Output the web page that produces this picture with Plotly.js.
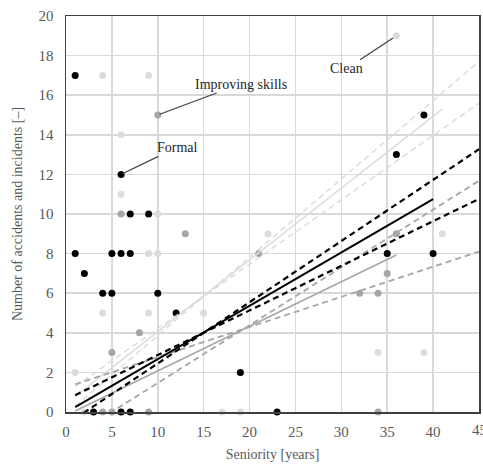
<!DOCTYPE html>
<html>
<head>
<meta charset="utf-8">
<script src="https://cdn.plot.ly/plotly-3.0.1.min.js"></script>
<style>html,body{margin:0;padding:0;background:#fff;}#chart{width:483px;height:465px;}</style>
</head>
<body>
<div id="chart"></div>
<script>
// Data points (seniority [years], number of accidents and incidents)
const formalX = [1, 6, 7, 9, 1, 5, 6, 7, 2, 4, 5, 10, 12, 3, 6, 7, 19, 23, 36, 39, 35, 40];
const formalY = [17, 12, 10, 10, 8, 8, 8, 8, 7, 6, 6, 6, 5, 0, 0, 0, 2, 0, 13, 15, 8, 8];

const improvingX = [10, 6, 13, 8, 5, 4, 5, 9, 21, 35, 32, 34, 34, 36];
const improvingY = [15, 10, 9, 4, 3, 0, 0, 0, 8, 7, 6, 6, 0, 9];

const cleanX = [4, 9, 6, 6, 10, 9, 10, 4, 9, 15, 1, 2, 17, 19, 22, 36, 41, 34, 39];
const cleanY = [17, 17, 14, 11, 10, 8, 8, 5, 5, 5, 2, 0, 0, 0, 9, 19, 9, 3, 3];

// Trend lines and their bounds (end points)
const formalFitX = [1, 40];       const formalFitY = [0.25, 10.75];
const formalLoX = [1, 45];        const formalLoY = [0.85, 10.76];
const formalHiX = [1, 45];        const formalHiY = [-0.33, 13.27];

const improvingFitX = [1, 36];    const improvingFitY = [0.05, 7.93];
const improvingLoX = [1, 45];     const improvingLoY = [1.4, 8.1];
const improvingHiX = [1, 45];     const improvingHiY = [-1.16, 11.68];

const cleanFitX = [1, 41];        const cleanFitY = [0.79, 15.3];
const cleanLoX = [1, 45];         const cleanLoY = [1.28, 15.6];
const cleanHiX = [1, 45];         const cleanHiY = [0.3, 17.7];

const xTicks = [0, 5, 10, 15, 20, 25, 30, 35, 40];
const xLastTick = 45;
const yTicks = [0, 2, 4, 6, 8, 10, 12, 14, 16, 18, 20];

const BLACK = '#000000', GRAY = '#a6a6a6', LIGHT = '#dcdcdc';

function pts(x, y, c) {
  return {x: x, y: y, type: 'scatter', mode: 'markers', cliponaxis: false,
    marker: {color: c, size: 7, line: {width: 0}}, hoverinfo: 'skip', showlegend: false};
}
function ln(x, y, c, w, dash) {
  return {x: x, y: y, type: 'scatter', mode: 'lines',
    line: {color: c, width: w, dash: dash}, hoverinfo: 'skip', showlegend: false};
}

const traces = [
  pts(cleanX, cleanY, LIGHT),
  pts(improvingX, improvingY, GRAY),
  pts(formalX, formalY, BLACK),
  ln(cleanFitX, cleanFitY, LIGHT, 1.5, 'solid'),
  ln(cleanLoX, cleanLoY, LIGHT, 1.5, '6px,4px'),
  ln(cleanHiX, cleanHiY, LIGHT, 1.5, '6px,4px'),
  ln(improvingFitX, improvingFitY, GRAY, 1.5, 'solid'),
  ln(improvingLoX, improvingLoY, GRAY, 1.8, '6px,4px'),
  ln(improvingHiX, improvingHiY, GRAY, 1.8, '6px,4px'),
  ln(formalFitX, formalFitY, BLACK, 2, 'solid'),
  ln(formalLoX, formalLoY, BLACK, 2.2, '6px,4px'),
  ln(formalHiX, formalHiY, BLACK, 2.2, '6px,4px')
];

const serif = "'Liberation Serif'";
const annFont = {family: serif, size: 14, color: '#262626'};
const tickFont = {family: serif, size: 15, color: '#595959'};

const layout = {
  width: 483, height: 465,
  margin: {l: 66, r: 4, t: 16, b: 53},
  paper_bgcolor: '#ffffff', plot_bgcolor: '#ffffff',
  showlegend: false,
  font: {family: serif, size: 14, color: '#595959'},
  xaxis: {
    range: [0, 45], tickvals: xTicks, ticktext: xTicks.map(String),
    showgrid: true, gridcolor: '#d9d9d9', gridwidth: 1.5,
    zeroline: false, showline: true, mirror: true, linecolor: '#404040', linewidth: 1.5,
    ticks: '', tickfont: tickFont, ticklabelstandoff: 5,
    title: {text: 'Seniority [years]', font: {family: serif, size: 14, color: '#595959'}, standoff: 10},
    fixedrange: true
  },
  yaxis: {
    range: [0, 20], tickvals: yTicks, ticktext: yTicks.map(String),
    showgrid: true, gridcolor: '#d9d9d9', gridwidth: 1.5,
    zeroline: false, showline: true, mirror: true, linecolor: '#404040', linewidth: 1.5,
    ticks: '', tickfont: tickFont, ticklabelstandoff: 8,
    title: {text: 'Number of accidents and incidents [–]', font: {family: serif, size: 14, color: '#595959'}, standoff: 12},
    fixedrange: true
  },
  annotations: [
    {x: xLastTick, y: 0, xref: 'x', yref: 'paper', yshift: -18, text: String(xLastTick), showarrow: false,
     font: tickFont, xanchor: 'center', yanchor: 'middle'},
    {x: 6, y: 12, xref: 'x', yref: 'y', text: 'Formal', showarrow: true, arrowhead: 0,
     arrowwidth: 1.2, arrowcolor: '#404040', ax: 56, ay: -27, font: annFont, standoff: 2},
    {x: 10, y: 15, xref: 'x', yref: 'y', text: 'Improving skills', showarrow: true, arrowhead: 0,
     arrowwidth: 1.2, arrowcolor: '#404040', ax: 83, ay: -31, font: annFont, standoff: 2},
    {x: 36, y: 19, xref: 'x', yref: 'y', text: 'Clean', showarrow: true, arrowhead: 0,
     arrowwidth: 1.2, arrowcolor: '#404040', ax: -50, ay: 33, font: annFont, standoff: 4}
  ]
};

Plotly.newPlot('chart', traces, layout, {displayModeBar: false, staticPlot: true});
</script>
</body>
</html>
